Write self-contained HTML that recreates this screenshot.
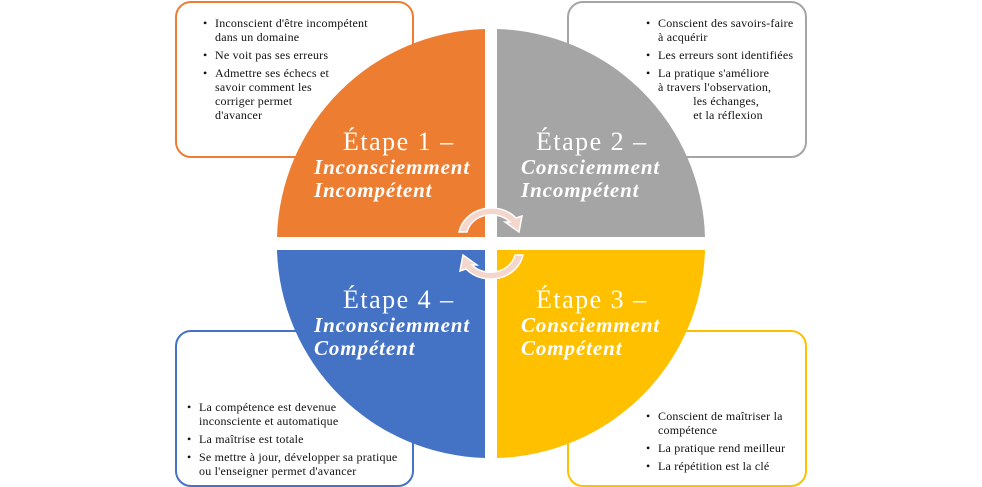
<!DOCTYPE html>
<html><head><meta charset="utf-8"><style>
body{margin:0;width:982px;height:487px;background:#fff;position:relative;overflow:hidden;font-family:"Liberation Serif",serif;}
.box{position:absolute;border:2px solid;border-radius:16px;background:#fff;box-sizing:border-box;}
.txt{position:absolute;font-size:12px;line-height:14px;color:#111;white-space:nowrap;letter-spacing:0.2px}
.txt div{position:relative;padding-left:13px;margin-bottom:4px}
.txt div:before{content:"•";position:absolute;left:1px;top:0}
svg{position:absolute;left:0;top:0}
.h{position:absolute;color:#fff;font-size:26px;line-height:28px;letter-spacing:1.5px;white-space:nowrap}
.h i{font-weight:bold;font-size:21px;display:block;line-height:23px;letter-spacing:0.9px}
</style></head><body>
<div class="box" style="left:175px;top:1px;width:239px;height:157px;border-color:#ed7d31"></div>
<div class="box" style="left:567px;top:1px;width:240px;height:157px;border-color:#a5a5a5"></div>
<div class="box" style="left:175px;top:330px;width:239px;height:157px;border-color:#4472c4"></div>
<div class="box" style="left:567px;top:330px;width:240px;height:157px;border-color:#ffc000"></div>
<div class="txt" style="left:202px;top:16px">
<div>Inconscient d'être incompétent<br>dans un domaine</div><div>Ne voit pas ses erreurs</div><div>Admettre ses échecs et<br>savoir comment les<br>corriger permet<br>d'avancer</div></div>
<div class="txt" style="left:645px;top:16px">
<div>Conscient des savoirs-faire<br>à acquérir</div><div>Les erreurs sont identifiées</div><div>La pratique s'améliore<br>à travers l'observation,<br>&nbsp;&nbsp;&nbsp;&nbsp;&nbsp;&nbsp;&nbsp;&nbsp;&nbsp;&nbsp;&nbsp;les échanges,<br>&nbsp;&nbsp;&nbsp;&nbsp;&nbsp;&nbsp;&nbsp;&nbsp;&nbsp;&nbsp;&nbsp;et la réflexion</div></div>
<div class="txt" style="left:186px;top:400px">
<div>La compétence est devenue<br>inconsciente et automatique</div><div>La maîtrise est totale</div><div>Se mettre à jour, développer sa pratique<br>ou l'enseigner permet d'avancer</div></div>
<div class="txt" style="left:645px;top:409px">
<div>Conscient de maîtriser la<br>compétence</div><div>La pratique rend meilleur</div><div>La répétition est la clé</div></div>
<svg width="982" height="487">
<path d="M485,237 L277,237 A214,214 0 0 1 485,29 Z" fill="#ed7d31"/>
<path d="M497,237 L705,237 A214,214 0 0 0 497,29 Z" fill="#a5a5a5"/>
<path d="M485,250 L277,250 A214,214 0 0 0 485,458 Z" fill="#4472c4"/>
<path d="M497,250 L705,250 A214,214 0 0 1 497,458 Z" fill="#ffc000"/>
<path d="M459,232 A33,30 0 0 1 516,218 L522,216 L519,232 L505,222 L510,222 A25,22 0 0 0 467,232 Z" fill="#f4d6cc" stroke="#fff" stroke-width="1.5"/>
<path d="M523,255 A33,30 0 0 1 466,269 L460,271 L463,255 L477,265 L472,265 A25,22 0 0 0 515,255 Z" fill="#f4d6cc" stroke="#fff" stroke-width="1.5"/>
</svg>
<div class="h" style="left:343px;top:128px">Étape 1 –<i style="margin-left:-29px">Inconsciemment<br>Incompétent</i></div>
<div class="h" style="left:536px;top:128px">Étape 2 –<i style="margin-left:-15px">Consciemment<br>Incompétent</i></div>
<div class="h" style="left:343px;top:286px">Étape 4 –<i style="margin-left:-29px">Inconsciemment<br>Compétent</i></div>
<div class="h" style="left:536px;top:286px">Étape 3 –<i style="margin-left:-15px">Consciemment<br>Compétent</i></div>
</body></html>
